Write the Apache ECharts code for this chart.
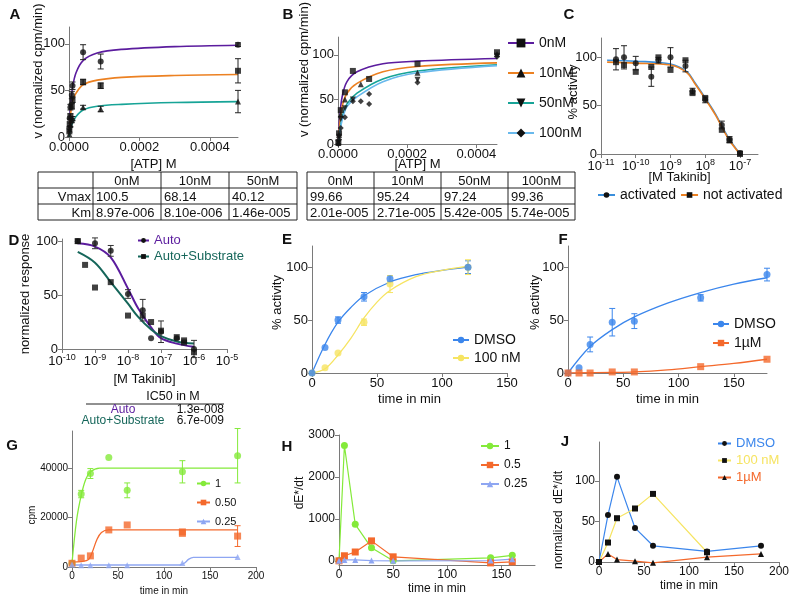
<!DOCTYPE html>
<html>
<head>
<meta charset="utf-8">
<script src="https://cdn.jsdelivr.net/npm/echarts@6/dist/echarts.min.js"></script>
<style>
  html, body { margin: 0; background: #fff; }
  #main { width: 800px; height: 604px; }
</style>
</head>
<body>
<div id="main"></div>
<script>
// ---------- data ----------
// A: kinetics, points are [x, y, sd]
const aPts0 = [[0.000001,10,0],[0.000002,20,0],[0.000004,32,3],[0.000008,45,4],[0.00001,55,4],[0.00004,91,8],[0.00009,81,8],[0.00048,99,2]];
const aPts10 = [[0.000001,6,0],[0.000002,14,0],[0.000004,22,3],[0.000008,33,3],[0.00001,40,3],[0.00004,59,3],[0.00009,55,3],[0.00048,71,13]];
const aPts50 = [[0.000001,3,0],[0.000002,8,0],[0.000004,13,2],[0.000008,18,2],[0.00001,20,2],[0.00004,32,2],[0.00009,30,3],[0.00048,38,12]];
const aFit0 = [[0,0],[0.000005,36],[0.00001,53],[0.00002,69],[0.00004,82],[0.00008,90],[0.00015,94],[0.0003,97],[0.00048,98.5]];
const aFit10 = [[0,0],[0.000005,26],[0.00001,38],[0.00002,47],[0.00004,56],[0.00008,61],[0.00015,64],[0.0003,66],[0.00048,67]];
const aFit50 = [[0,0],[0.000005,10],[0.00001,15],[0.00002,22],[0.00004,29],[0.00008,33],[0.00015,35],[0.0003,37],[0.00048,38]];
const aXTicks = [0, 0.0002, 0.0004];
const tableAHead = ['', '0nM', '10nM', '50nM'];
const tableARows = [['Vmax', '100.5', '68.14', '40.12'], ['Km', '8.97e-006', '8.10e-006', '1.46e-005']];

// B
const bPts0 = [[0.000001,2],[0.000003,12],[0.000008,38],[0.00002,58],[0.000043,82],[0.00009,73],[0.00023,90],[0.00046,103]];
const bPts10 = [[0.000001,1],[0.000003,10],[0.000008,33],[0.00002,50],[0.000066,67],[0.00023,80],[0.00046,101]];
const bPts50 = [[0.000001,1],[0.000003,8],[0.000008,28],[0.00002,40],[0.000043,50],[0.00023,72],[0.00046,99]];
const bPts100 = [[0.000001,0],[0.000003,5],[0.000008,18],[0.00002,30],[0.000043,48],[0.000066,48],[0.00009,45],[0.00009,56],[0.00023,69],[0.00046,98]];
const bFit0 = [[0,0],[0.000005,30],[0.000012,53],[0.000026,70],[0.000055,81],[0.00013,90],[0.00023,93],[0.00046,96]];
const bFit10 = [[0,0],[0.000005,22],[0.000012,42],[0.000026,57],[0.000055,68],[0.00013,81],[0.00023,87],[0.00046,91]];
const bFit50 = [[0,0],[0.000005,15],[0.000012,30],[0.000026,45],[0.000055,57],[0.00013,73],[0.00023,82],[0.00046,89]];
const bFit100 = [[0,0],[0.000005,12],[0.000012,27],[0.000026,42],[0.000055,53],[0.00013,70],[0.00023,80],[0.00046,88]];
const tableBHead = ['0nM', '10nM', '50nM', '100nM'];
const tableBRows = [['99.66', '95.24', '97.24', '99.36'], ['2.01e-005', '2.71e-005', '5.42e-005', '5.74e-005']];

// C: dose response
const cX = [2.7e-11, 4.6e-11, 1e-10, 2.8e-10, 4.5e-10, 1e-9, 2.7e-9, 4.3e-9, 1e-8, 3e-8, 5e-8, 1e-7];
const cAct = [98, 100, 94, 80, 97, 100, 91, 65, 56, 30, 15, 1];
const cActSd = [11, 12, 7, 10, 3, 10, 6, 3, 3, 4, 3, 2];
const cNot = [95, 92, 85, 90, 100, 87, 97, 63, 58, 25, 14, 0];
const cFitAct = [[1.5e-11,97],[1e-10,96],[1e-9,93],[3e-9,85],[5e-9,74],[1e-8,58],[2e-8,41],[3e-8,29],[5e-8,15],[1e-7,0]];
const cFitNot = [[1.5e-11,95],[1e-10,94],[1e-9,92],[3e-9,84],[5e-9,73],[1e-8,57],[2e-8,40],[3e-8,28],[5e-8,14],[1e-7,0]];
const cXTicks = [1e-11, 1e-10, 1e-9, 1e-8, 1e-7];

// D: IC50
const dAuto = [[3e-10,100,2],[1e-9,98,5],[3e-9,91,5],[1e-8,51,4],[2.8e-8,36,10],[5e-8,10,0],[1e-7,16,10],[3e-7,10,0],[1e-6,0,8]];
const dAutoSub = [[3e-10,100,0],[5e-10,78,0],[1e-9,57,2],[3e-9,62,0],[1e-8,31,0],[2.8e-8,31,0],[5e-8,25,0],[1e-7,17,0],[3e-7,11,0],[5e-7,8,0],[5e-7,6,0],[1e-6,-3,0]];
const dFitAuto = [[3e-10,98],[1e-9,95],[3e-9,85],[1e-8,56],[2e-8,38],[5e-8,20],[1e-7,10],[3e-7,5],[1e-6,2]];
const dFitSub = [[3e-10,90],[1e-9,80],[3e-9,62],[1e-8,42],[2e-8,30],[5e-8,18],[1e-7,12],[3e-7,7],[1e-6,5]];
const dXTicks = [1e-10, 1e-9, 1e-8, 1e-7, 1e-6, 1e-5];
const ic50Rows = [['Auto', '1.3e-008'], ['Auto+Substrate', '6.7e-009']];

// E, F: time course
const eDmso = [[0,0,0],[10,24,0],[20,50,3],[40,72,4],[60,89,3],[120,100,6]];
const e100 = [[0,0,0],[10,5,0],[20,19,0],[40,48,3],[60,84,8],[120,100,7]];
const eFitDmso = [[0,0],[10,27],[20,48],[30,62],[40,73],[60,86],[80,93],[100,97],[120,100]];
const eFit100 = [[0,0],[10,4],[20,17],[30,33],[40,52],[50,67],[60,78],[80,91],[100,97],[120,101]];
const fDmso = [[0,0,0],[10,5,0],[20,27,7],[40,48,13],[60,49,7],[120,71,3],[180,93,6]];
const f1uM = [[0,0,0],[10,0,0],[20,0,0],[40,1,0],[60,1,0],[120,6,0],[180,13,0]];
const fFitDmso = [[0,0],[20,25],[40,41],[60,53],[90,66],[120,76],[150,84],[180,90]];
const fFit1uM = [[0,0],[40,0.5],[60,1],[90,3],[120,6],[150,9],[180,13]];
const timeTicks150 = [0, 50, 100, 150];
const timeTicks200 = [0, 50, 100, 150, 200];

// G: cpm
const gOne = [[0,1500,0],[10,29500,1500],[20,37800,2000],[40,44300,0],[60,31000,3000],[120,38500,4500],[180,45000,11000]];
const gHalf = [[0,1500,0],[10,3600,0],[20,4500,0],[40,15000,0],[60,17000,0],[120,14200,0],[120,13600,0],[180,12500,4200]];
const gQuarter = [[0,1000,0],[10,700,0],[20,700,0],[40,700,0],[60,700,0],[120,1600,0],[180,4000,0]];
const gFitOne = [[0,1500],[5,19000],[10,29000],[15,35500],[20,38500],[30,40000],[60,40000],[180,40000]];
const gFitHalf = [[0,2000],[10,2200],[18,3000],[22,6000],[27,11000],[32,14000],[40,15000],[180,15000]];
const gFitQuarter = [[0,800],[117,800],[122,1500],[127,3200],[132,3900],[180,3900]];

// H: dE*/dt
const hOne = [[0,0],[5,2750],[15,870],[30,310],[50,0],[140,70],[160,130]];
const hHalf = [[0,0],[5,120],[15,210],[30,475],[50,95],[140,-50],[160,-25]];
const hQuarter = [[0,0],[5,20],[15,20],[30,5],[50,0],[140,5],[160,40]];

// J: normalized dE*/dt
const jDmso = [[0,0],[10,58],[20,105],[40,42],[60,20],[120,13],[180,20]];
const j100 = [[0,0],[10,24],[20,54],[40,66],[60,84],[120,12]];
const j1uM = [[0,0],[10,10],[20,3],[40,1],[60,-1],[120,6],[180,10]];

// ---------- helpers ----------
const FONT = 'Liberation Sans, Arial, sans-serif';
const AX = '#7a7a7a';
const C = {
  purple: '#5b1c9e', orange: '#ec8122', teal: '#17a497', sky: '#69b9ec',
  blue: '#3b86ec', cblue: '#3a8fdc', yellow: '#f6e462', green: '#84ea3a',
  red: '#f4692c', lav: '#8ea6f2', dteal: '#15665a'
};

function ax(gi, o) {
  const a = {
    gridIndex: gi, type: 'value',
    axisLine: { show: true, onZero: false, lineStyle: { color: AX } },
    axisTick: { show: true, length: 4, lineStyle: { color: AX } },
    splitLine: { show: false },
    nameLocation: 'middle',
    nameMoveOverlap: false,
    nameTextStyle: { color: '#111', fontFamily: FONT, fontSize: o.fs || 13, padding: o.np || 0 },
    axisLabel: { color: '#111', fontFamily: FONT, fontSize: o.fs || 13, margin: 4, formatter: o.fmt || (v => String(v)) }
  };
  if (o.ticks) {
    a.axisTick.customValues = o.ticks;
    a.axisLabel.customValues = o.ticks;
  }
  if (o.rich) a.axisLabel.rich = o.rich;
  ['type', 'min', 'max', 'name', 'nameGap', 'logBase'].forEach(k => { if (o[k] !== undefined) a[k] = o[k]; });
  return a;
}

const supRich = {
  b: { fontFamily: FONT, fontSize: 13, color: '#111' },
  s: { fontFamily: FONT, fontSize: 9, color: '#111', padding: [0, 0, 8, 0] }
};
function powFmt(typo) {
  return v => {
    let e = Math.round(Math.log10(v));
    if (typo && e === -8) e = 8;
    return '{b|10}{s|' + e + '}';
  };
}

function pts(gi, data, symbol, color, size) {
  return { type: 'scatter', xAxisIndex: gi, yAxisIndex: gi, symbol, symbolSize: size || 6,
    itemStyle: { color }, data: data.map(d => [d[0], d[1]]), z: 4, clip: false, silent: true };
}
function errs(gi, data, color) {
  return {
    type: 'custom', xAxisIndex: gi, yAxisIndex: gi, z: 3, silent: true, clip: false,
    itemStyle: { color },
    data: data.filter(d => d[2] > 0).map(d => [d[0], d[1] - d[2], d[1] + d[2]]),
    renderItem: (params, api) => {
      const p1 = api.coord([api.value(0), api.value(1)]);
      const p2 = api.coord([api.value(0), api.value(2)]);
      const st = { stroke: color, lineWidth: 1 };
      return { type: 'group', children: [
        { type: 'line', shape: { x1: p1[0], y1: p1[1], x2: p2[0], y2: p2[1] }, style: st },
        { type: 'line', shape: { x1: p1[0] - 3, y1: p1[1], x2: p1[0] + 3, y2: p1[1] }, style: st },
        { type: 'line', shape: { x1: p2[0] - 3, y1: p2[1], x2: p2[0] + 3, y2: p2[1] }, style: st }
      ] };
    }
  };
}
function curve(name, gi, data, color, symbol, symColor, width) {
  return { type: 'line', name, xAxisIndex: gi, yAxisIndex: gi, data, smooth: 0.35,
    showSymbol: false, symbol: symbol || 'none', itemStyle: { color: symColor || color },
    lineStyle: { color, width: width || 1.6 }, z: 2, silent: true };
}
function conn(name, gi, data, color, symbol, symColor, size) {
  return { type: 'line', name, xAxisIndex: gi, yAxisIndex: gi, data, showSymbol: true,
    symbol, symbolSize: size || 6, itemStyle: { color: symColor || color },
    lineStyle: { color, width: 1.2 }, z: 3, clip: false, silent: true };
}
function legend(o) {
  return Object.assign({
    orient: 'vertical', selectedMode: false, padding: 0,
    formatter: n => n.slice(n.indexOf('|') + 1),
    textStyle: { fontFamily: FONT, fontSize: o.fs || 13, color: '#111' }
  }, o);
}

// ---------- grids ----------
const grids = [
  { left: 69, top: 27, width: 169, height: 110 },   // 0 A
  { left: 338, top: 37, width: 159, height: 107 },  // 1 B
  { left: 601, top: 38, width: 157, height: 116 },  // 2 C
  { left: 62, top: 239, width: 165, height: 110 },  // 3 D
  { left: 312, top: 246, width: 195, height: 127 }, // 4 E
  { left: 568, top: 246, width: 199, height: 127 }, // 5 F
  { left: 72, top: 431, width: 184, height: 136 },  // 6 G
  { left: 339, top: 435, width: 196, height: 130 }, // 7 H
  { left: 599, top: 442, width: 180, height: 120 }  // 8 J
];

const xAxes = [
  ax(0, { min: 0, max: 0.00048, ticks: aXTicks, fmt: v => v.toFixed(4), name: '[ATP] M', nameGap: 21 }),
  ax(1, { min: 0, max: 0.00046, ticks: aXTicks, fmt: v => v.toFixed(4), name: '[ATP] M', nameGap: 14 }),
  ax(2, { type: 'log', logBase: 10, min: 1e-11, max: 3.3e-7, ticks: cXTicks, fmt: powFmt(true), rich: supRich, name: '[M Takinib]', nameGap: 17 }),
  ax(3, { type: 'log', logBase: 10, min: 1e-10, max: 1e-5, ticks: dXTicks, fmt: powFmt(false), rich: supRich, name: '[M Takinib]', nameGap: 24 }),
  ax(4, { min: 0, max: 150, ticks: timeTicks150, name: 'time in min', nameGap: 20 }),
  ax(5, { min: 0, max: 180, ticks: timeTicks150, name: 'time in min', nameGap: 20 }),
  ax(6, { min: 0, max: 200, ticks: timeTicks200, name: 'time in min', nameGap: 19, fs: 10 }),
  ax(7, { min: 0, max: 181, ticks: timeTicks150, name: 'time in min', nameGap: 18, fs: 12 }),
  ax(8, { min: 0, max: 200, ticks: timeTicks200, name: 'time in min', nameGap: 18, fs: 12 })
];
const yAxes = [
  ax(0, { min: 0, max: 118, ticks: [0, 50, 100], name: 'v (normalized cpm/min)', nameGap: 24, np: [0, 0, 0, 22] }),
  ax(1, { min: 0, max: 120, ticks: [0, 50, 100], name: 'v (normalized cpm/min)', nameGap: 27, np: [0, 0, 0, 42] }),
  ax(2, { min: 0, max: 120, ticks: [0, 50, 100], name: '% activity', nameGap: 21, np: [0, 0, 0, 8] }),
  ax(3, { min: 0, max: 102, ticks: [0, 50, 100], name: 'normalized response', nameGap: 30 }),
  ax(4, { min: 0, max: 120, ticks: [0, 50, 100], name: '% activity', nameGap: 28, np: [0, 0, 0, 14] }),
  ax(5, { min: 0, max: 120, ticks: [0, 50, 100], name: '% activity', nameGap: 26, np: [0, 0, 0, 14] }),
  ax(6, { min: 0, max: 55000, ticks: [0, 20000, 40000], name: 'cpm', nameGap: 35, fs: 10, np: [0, 32, 0, 0] }),
  ax(7, { min: -100, max: 3000, ticks: [0, 1000, 2000, 3000], name: 'dE*/dt', nameGap: 33, fs: 12, np: [0, 0, 0, 14] }),
  ax(8, { min: 0, max: 148, ticks: [0, 50, 100], name: 'normalized  dE*/dt', nameGap: 34, fs: 12, np: [0, 36, 0, 0] })
];

const series = [
  // A
  curve('A|0nM', 0, aFit0, C.purple), curve('A|10nM', 0, aFit10, C.orange), curve('A|50nM', 0, aFit50, C.teal),
  errs(0, aPts0, '#222'), errs(0, aPts10, '#222'), errs(0, aPts50, '#222'),
  pts(0, aPts0, 'circle', '#111'), pts(0, aPts10, 'rect', '#111'), pts(0, aPts50, 'triangle', '#111'),
  // B
  curve('B|0nM', 1, bFit0, C.purple, 'rect', '#111'), curve('B|10nM', 1, bFit10, C.orange, 'triangle', '#111'),
  curve('B|50nM', 1, bFit50, C.teal, 'path://M0,0 L10,0 L5,9 Z', '#111'), curve('B|100nM', 1, bFit100, C.sky, 'diamond', '#111'),
  pts(1, bPts0, 'rect', '#111'), pts(1, bPts10, 'triangle', '#111'),
  pts(1, bPts50, 'path://M0,0 L10,0 L5,9 Z', '#111'), pts(1, bPts100, 'diamond', '#111'),
  // C
  curve('C|activated', 2, cFitAct, C.cblue, 'circle', '#111'), curve('C|not activated', 2, cFitNot, C.orange, 'rect', '#111'),
  errs(2, cX.map((x, i) => [x, cAct[i], cActSd[i]]), '#222'),
  pts(2, cX.map((x, i) => [x, cAct[i]]), 'circle', '#111'), pts(2, cX.map((x, i) => [x, cNot[i]]), 'rect', '#111'),
  // D
  curve('D|Auto', 3, dFitAuto, C.purple, 'circle', '#111', 2), curve('D|Auto+Substrate', 3, dFitSub, C.dteal, 'rect', '#111', 2),
  errs(3, dAuto, '#333'),
  pts(3, dAuto, 'circle', '#111'), pts(3, dAutoSub, 'rect', '#111'),
  // E
  curve('E|DMSO', 4, eFitDmso, C.blue, 'circle', C.blue, 1.3), curve('E|100 nM', 4, eFit100, C.yellow, 'circle', C.yellow, 1.3),
  errs(4, eDmso, C.blue), errs(4, e100, C.yellow),
  pts(4, e100, 'circle', C.yellow, 7), pts(4, eDmso, 'circle', C.blue, 7),
  // F
  curve('F|DMSO', 5, fFitDmso, C.blue, 'circle', C.blue, 1.3), curve('F|1µM', 5, fFit1uM, C.red, 'rect', C.red, 1.3),
  errs(5, fDmso, C.blue),
  pts(5, fDmso, 'circle', C.blue, 7), pts(5, f1uM, 'rect', C.red, 7),
  // G
  curve('G|1', 6, gFitOne, C.green, 'circle', C.green, 1.3), curve('G|0.50', 6, gFitHalf, C.red, 'rect', C.red, 1.3),
  curve('G|0.25', 6, gFitQuarter, C.lav, 'triangle', C.lav, 1.3),
  errs(6, gOne, C.green), errs(6, gHalf, C.red),
  pts(6, gOne, 'circle', C.green, 7), pts(6, gHalf, 'rect', C.red, 7), pts(6, gQuarter, 'triangle', C.lav, 6),
  // H
  conn('H|1', 7, hOne, C.green, 'circle', C.green, 7), conn('H|0.5', 7, hHalf, C.red, 'rect', C.red, 7),
  conn('H|0.25', 7, hQuarter, C.lav, 'triangle', C.lav, 6),
  // J
  conn('J|DMSO', 8, jDmso, C.blue, 'circle', '#111', 6), conn('J|100 nM', 8, j100, C.yellow, 'rect', '#111', 6),
  conn('J|1µM', 8, j1uM, C.red, 'triangle', '#111', 6)
];

const legends = [
  legend({ left: 507, top: 36, itemWidth: 26, itemHeight: 11, itemGap: 16, fs: 14,
    data: ['B|0nM', 'B|10nM', 'B|50nM', 'B|100nM'] }),
  legend({ orient: 'horizontal', left: 597, top: 188, itemWidth: 17, itemHeight: 7, itemGap: 4, fs: 14,
    data: ['C|activated', 'C|not activated'] }),
  legend({ left: 137, top: 234, itemWidth: 11, itemHeight: 6, itemGap: 3, fs: 13,
    data: [{ name: 'D|Auto', textStyle: { color: C.purple } }, { name: 'D|Auto+Substrate', textStyle: { color: C.dteal } }] }),
  legend({ left: 452, top: 333, itemWidth: 16, itemHeight: 8, itemGap: 4, fs: 14, data: ['E|DMSO', 'E|100 nM'] }),
  legend({ left: 712, top: 317, itemWidth: 16, itemHeight: 8, itemGap: 5, fs: 14, data: ['F|DMSO', 'F|1µM'] }),
  legend({ left: 196, top: 478, itemWidth: 13, itemHeight: 7, itemGap: 8, fs: 11, data: ['G|1', 'G|0.50', 'G|0.25'] }),
  legend({ left: 480, top: 440, itemWidth: 18, itemHeight: 8, itemGap: 7, fs: 12, data: ['H|1', 'H|0.5', 'H|0.25'] }),
  legend({ left: 717, top: 437, itemWidth: 13, itemHeight: 6, itemGap: 4, fs: 13,
    data: [{ name: 'J|DMSO', textStyle: { color: C.blue } }, { name: 'J|100 nM', textStyle: { color: C.yellow } },
      { name: 'J|1µM', textStyle: { color: C.red } }] })
];

// ---------- graphic: panel letters, tables, IC50 block ----------
const graphic = [];
function txt(x, y, s, o) {
  graphic.push({ type: 'text', x, y, silent: true, style: Object.assign({
    text: s, fontFamily: FONT, fontSize: 13, fill: '#111', align: 'left', verticalAlign: 'middle' }, o || {}) });
}
function hline(x1, x2, y, w) {
  graphic.push({ type: 'line', silent: true, shape: { x1, y1: y, x2, y2: y }, style: { stroke: '#222', lineWidth: w || 1 } });
}
function vline(x, y1, y2) {
  graphic.push({ type: 'line', silent: true, shape: { x1: x, y1, x2: x, y2 }, style: { stroke: '#222', lineWidth: 1 } });
}
[['A', 15, 15], ['B', 288, 15], ['C', 569, 15], ['D', 14, 241], ['E', 287, 240],
 ['F', 563, 240], ['G', 12, 446], ['H', 287, 447], ['J', 565, 442]].forEach(l =>
  txt(l[1], l[2], l[0], { fontSize: 15, fontWeight: 'bold', align: 'center' }));

function table(cols, rows, head, body, firstColLabels) {
  rows.forEach(y => hline(cols[0], cols[cols.length - 1], y));
  cols.forEach(x => vline(x, rows[0], rows[rows.length - 1]));
  head.forEach((h, i) => txt((cols[i] + cols[i + 1]) / 2, (rows[0] + rows[1]) / 2 + 1, h, { align: 'center' }));
  body.forEach((r, ri) => r.forEach((v, ci) => {
    const y = (rows[ri + 1] + rows[ri + 2]) / 2 + 1;
    if (firstColLabels && ci === 0) txt(cols[1] - 2, y, v, { align: 'right' });
    else txt(cols[ci] + 3, y, v);
  }));
}
table([38, 93, 161, 229, 297], [172, 188, 204, 220], tableAHead, tableARows, true);
table([307, 374, 441, 508, 575], [172, 188, 204, 220], tableBHead, tableBRows, false);

txt(173, 397, 'IC50 in M', { align: 'center', fontSize: 12.5 });
hline(86, 224, 404);
ic50Rows.forEach((r, i) => {
  const y = 410 + i * 11;
  txt(123, y, r[0], { align: 'center', fontSize: 12, fill: i === 0 ? C.purple : C.dteal });
  txt(224, y, r[1], { align: 'right', fontSize: 12 });
});

const chart = echarts.init(document.getElementById('main'), null, { renderer: 'canvas' });
chart.setOption({
  backgroundColor: '#fff',
  animation: false,
  grid: grids,
  xAxis: xAxes,
  yAxis: yAxes,
  legend: legends,
  series,
  graphic
});
</script>
</body>
</html>
